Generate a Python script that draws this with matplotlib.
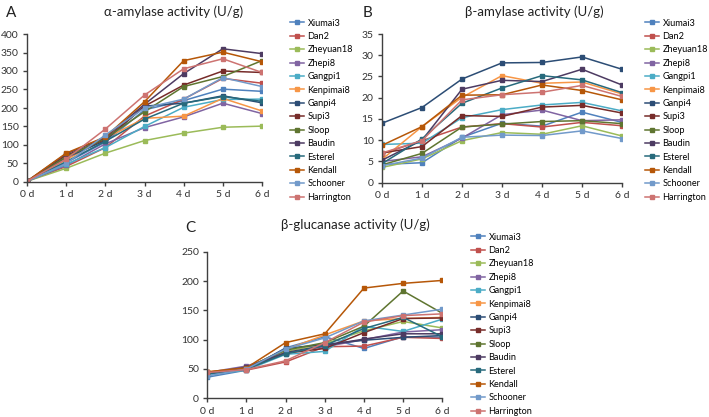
import matplotlib
matplotlib.use("Agg")
import matplotlib.pyplot as plt

plt.rcParams['font.family'] = ['Lato', 'DejaVu Sans']

days = ['0 d', '1 d', '2 d', '3 d', '4 d', '5 d', '6 d']
varieties = ['Xiumai3', 'Dan2', 'Zheyuan18', 'Zhepi8', 'Gangpi1', 'Kenpimai8', 'Ganpi4',
             'Supi3', 'Sloop', 'Baudin', 'Esterel', 'Kendall', 'Schooner', 'Harrington']
colors = ['#4F81BD', '#C0504D', '#9BBB59', '#8064A2', '#4BACC6', '#F79646', '#2C4D75',
          '#772C2A', '#5F7530', '#4D3B62', '#276A7C', '#B65708', '#729ACA', '#CD7371']

# alpha-amylase (U/g)
alpha = [
    [2, 52, 108, 195, 220, 251, 245],
    [2, 42, 93, 178, 224, 280, 267],
    [2, 37, 78, 112, 132, 148, 151],
    [2, 45, 103, 147, 176, 213, 185],
    [2, 48, 93, 150, 202, 223, 224],
    [2, 60, 118, 172, 178, 226, 192],
    [2, 66, 112, 205, 213, 233, 214],
    [2, 72, 115, 205, 262, 300, 296],
    [2, 68, 118, 190, 258, 285, 328],
    [2, 76, 120, 210, 293, 360, 347],
    [2, 55, 110, 170, 213, 231, 218],
    [2, 78, 122, 217, 328, 351, 325],
    [2, 50, 127, 200, 224, 282, 258],
    [2, 62, 143, 235, 306, 333, 296],
]

# beta-amylase (U/g)
beta = [
    [4.3, 4.7, 10.7, 14.0, 13.3, 16.6, 14.2],
    [6.8, 9.9, 13.1, 13.9, 13.1, 14.2, 13.4],
    [3.6, 5.6, 9.9, 11.8, 11.4, 13.4, 11.0],
    [5.0, 6.1, 10.5, 16.0, 17.1, 14.6, 14.8],
    [9.0, 9.3, 15.3, 17.2, 18.3, 18.9, 16.9],
    [5.5, 13.2, 20.1, 25.2, 23.4, 23.7, 20.9],
    [14.0, 17.7, 24.4, 28.2, 28.3, 29.6, 26.7],
    [7.0, 8.5, 15.8, 15.6, 17.8, 18.2, 16.4],
    [4.2, 6.9, 13.1, 13.8, 14.4, 14.6, 13.9],
    [5.3, 10.0, 22.0, 24.1, 23.8, 26.7, 23.0],
    [4.5, 10.3, 18.7, 22.3, 25.2, 24.2, 21.2],
    [8.8, 13.2, 20.6, 20.7, 23.0, 21.7, 19.5],
    [4.0, 5.8, 10.7, 11.2, 11.1, 12.2, 10.4],
    [7.0, 9.9, 19.5, 20.7, 21.3, 22.9, 20.3],
]

# beta-glucanase (U/g)
glucanase = [
    [36, 48, 86, 105, 85, 105, 104],
    [42, 48, 62, 88, 89, 104, 102],
    [43, 50, 80, 93, 115, 131, 120],
    [44, 55, 77, 88, 100, 113, 117],
    [40, 48, 75, 80, 123, 114, 135],
    [45, 52, 83, 108, 132, 136, 138],
    [42, 50, 85, 92, 99, 104, 107],
    [43, 50, 77, 85, 112, 136, 137],
    [44, 52, 82, 95, 123, 183, 145],
    [43, 53, 78, 90, 101, 110, 110],
    [42, 50, 76, 90, 119, 138, 105],
    [45, 52, 95, 110, 188, 196, 201],
    [38, 50, 84, 103, 132, 142, 152],
    [44, 49, 64, 95, 130, 141, 144],
]

W, H = 709, 417
fig = plt.figure(figsize=(W / 100, H / 100), dpi=100)


def panel(rect, data, ymax, ystep, title, letter, letter_xy, title_xy, leg_xy):
    ax = fig.add_axes([rect[0] / W, 1 - rect[3] / H, (rect[2] - rect[0]) / W, (rect[3] - rect[1]) / H])
    x = range(len(days))
    for name, c, vals in zip(varieties, colors, data):
        ax.plot(x, vals, color=c, lw=1.1, marker='s', ms=3, mec=c, mfc=c, label=name)
    ax.set_xlim(0, 6)
    ax.set_ylim(0, ymax)
    ax.set_yticks([i * ystep for i in range(int(ymax / ystep) + 1)])
    ax.set_xticks(list(x))
    ax.set_xticklabels(days)
    for s in ['top', 'right']:
        ax.spines[s].set_visible(False)
    for s in ['left', 'bottom']:
        ax.spines[s].set_color('#404040')
        ax.spines[s].set_linewidth(1.0)
    ax.tick_params(labelsize=7.5, colors='#404040', length=3, width=1.0, pad=3)
    ax.tick_params(axis='x', labelcolor='#333333')
    ax.tick_params(axis='y', labelcolor='#333333')
    fig.text(title_xy[0] / W, 1 - title_xy[1] / H, title, ha='center', va='center', fontsize=9.5, color='#222222')
    fig.text(letter_xy[0] / W, 1 - letter_xy[1] / H, letter, ha='left', va='center', fontsize=11, color='#222222')
    ax.legend(loc='upper left', bbox_to_anchor=(leg_xy[0] / W, 1 - leg_xy[1] / H),
              bbox_transform=fig.transFigure, frameon=False, fontsize=6.6,
              handlelength=1.6, handletextpad=0.35, labelspacing=0.48, borderpad=0, markerscale=0.9)
    return ax


panel((27, 34, 262, 182), alpha, 400, 50, 'α-amylase activity (U/g)', 'A', (6, 13), (174, 12), (285, 14))
panel((382, 34, 622, 182.7), beta, 35, 5, 'β-amylase activity (U/g)', 'B', (363, 13), (534, 12), (640, 14))
panel((207.3, 251.7, 442.3, 398.3), glucanase, 250, 50, 'β-glucanase activity (U/g)', 'C', (185, 228), (355, 225), (466, 228))

fig.savefig('out.png', dpi=100)
